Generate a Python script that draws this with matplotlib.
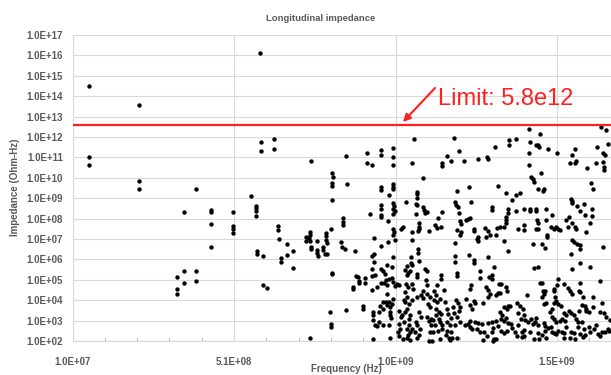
import matplotlib
matplotlib.use("Agg")
import matplotlib.pyplot as plt
import numpy as np
from matplotlib.ticker import FixedLocator, NullLocator

plt.rcParams['font.family'] = ['Liberation Sans', 'DejaVu Sans']

# ---------------- data (frequency in GHz, impedance as log10 of Ohm-Hz) ----------------
freq_ghz = [
    # far left
    0.062, 0.062, 0.062, 0.215, 0.215, 0.215, 0.392, 0.355, 0.440, 0.440,
    0.440, 0.440, 0.506, 0.506, 0.506, 0.506, 0.334, 0.334, 0.334, 0.356,
    0.356, 0.392, 0.392,
    # 0.55 - 1.0 GHz
    0.590, 0.593, 0.593, 0.635, 0.635, 0.749, 0.562, 0.578, 0.578, 0.578,
    0.578, 0.582, 0.582, 0.601, 0.601, 0.613, 0.647, 0.647, 0.649, 0.673,
    0.656, 0.656, 0.673, 0.694, 0.694, 0.745, 0.745, 0.741, 0.745, 0.733,
    0.733, 0.749, 0.749, 0.768, 0.768, 0.768, 0.770, 0.786, 0.786, 0.795,
    0.795, 0.795, 0.797, 0.791, 0.797, 0.810, 0.812, 0.813, 0.817, 0.813,
    0.813, 0.847, 0.847, 0.847, 0.840, 0.844, 0.853, 0.858, 0.861, 0.813,
    0.813, 0.885, 0.807, 0.809, 0.809, 0.857, 0.745, 0.878, 0.878, 0.888,
    0.894, 0.898, 0.898, 0.915, 0.915, 0.910, 0.910, 0.921, 0.921, 0.937,
    0.931, 0.966, 0.966, 0.966, 0.966, 0.966, 0.966, 0.966, 0.966, 0.989,
    0.987, 0.943, 0.966, 0.987, 0.937, 0.943, 0.943, 0.937, 0.937, 0.946,
    0.937, 0.954, 0.964, 0.972, 0.978, 0.966, 0.974, 0.984, 0.984, 0.990,
    0.939, 0.939, 0.939, 0.954, 0.972, 0.962, 0.972, 0.983, 0.939, 0.981,
    0.989, 0.972, 0.991, 0.947, 0.981, 0.999, 1.014, 0.985, 0.958, 0.960,
    # 1.0 - 1.22 GHz, upper part
    1.003, 1.003, 1.003, 1.068, 1.061, 1.096, 1.003, 1.003, 1.003, 1.003,
    1.005, 1.003, 1.008, 1.003, 1.077, 1.077, 1.076, 1.043, 1.073, 1.077,
    1.073, 1.096, 1.098, 1.100, 1.107, 1.154, 1.142, 1.002, 1.006, 1.028,
    1.034, 1.061, 1.082, 1.082, 1.082, 1.080, 1.115, 1.133, 1.138, 1.150,
    1.190, 1.208, 1.169, 1.183, 1.154, 1.154, 1.222, 1.199, 1.193, 1.197,
    1.204, 1.206, 1.210, 1.212, 1.199, 1.212,
    # 1.0 - 1.22 GHz, lower part
    1.003, 1.009, 1.061, 1.080, 1.080, 1.057, 1.057, 1.061, 1.082, 1.003,
    0.999, 1.045, 1.040, 1.049, 1.047, 1.055, 1.102, 1.107, 1.020, 1.002,
    1.008, 1.043, 1.049, 1.061, 1.065, 1.104, 1.107, 1.096, 1.077, 1.090,
    1.094, 1.040, 1.047, 1.036, 1.040, 1.053, 1.061, 1.003, 0.999, 0.993,
    0.993, 0.993, 0.995, 1.020, 1.026, 1.030, 1.040, 1.047, 1.055, 1.051,
    1.036, 1.022, 1.024, 1.018, 1.022, 1.051, 1.045, 1.055, 1.049, 1.061,
    1.073, 1.077, 1.086, 1.071, 1.082, 1.107, 1.113, 1.119, 1.119, 1.127,
    1.133, 1.107, 1.117, 1.111, 1.117, 1.135, 1.129, 1.139, 1.148, 1.135,
    1.144, 1.152, 1.135, 1.144, 1.148, 1.154, 1.154, 1.117, 1.127, 1.142,
    1.170, 1.179, 1.183, 1.152, 1.150, 1.139, 1.160, 1.129, 1.164, 1.169,
    1.173, 1.181, 1.197, 1.204, 1.210, 1.208, 1.199, 1.210, 1.193, 1.193,
    1.193, 1.201, 1.201, 1.210, 1.175, 1.185, 1.148, 1.077, 1.032, 1.046,
    1.076, 1.077, 1.084, 1.088, 1.170, 1.166, 1.188, 1.191, 1.195, 1.199,
    0.992, 1.055, 1.113, 1.122, 1.179,
    # 1.22 - 1.68 GHz, upper part
    1.422, 1.456, 1.646, 1.662, 1.361, 1.361, 1.384, 1.425, 1.444, 1.450,
    1.454, 1.483, 1.510, 1.423, 1.318, 1.264, 1.293, 1.295, 1.423, 1.460,
    1.430, 1.434, 1.440, 1.450, 1.467, 1.471, 1.238, 1.328, 1.353, 1.384,
    1.396, 1.370, 1.244, 1.308, 1.308, 1.357, 1.359, 1.351, 1.353, 1.353,
    1.384, 1.407, 1.425, 1.427, 1.446, 1.446, 1.477, 1.495, 1.448, 1.452,
    1.477, 1.227, 1.234, 1.240, 1.254, 1.254, 1.287, 1.297, 1.324, 1.333,
    1.347, 1.390, 1.407, 1.409, 1.446, 1.452, 1.491, 1.502, 1.508, 1.514,
    1.518, 1.537, 1.547, 1.543, 1.556, 1.566, 1.570, 1.553, 1.556, 1.556,
    1.572, 1.580, 1.593, 1.595, 1.617, 1.617, 1.613, 1.601, 1.566, 1.557,
    1.568, 1.551, 1.566, 1.603, 1.615, 1.621, 1.634, 1.652, 1.659, 1.667,
    1.632, 1.652, 1.655, 1.656,
    # 1.22 - 1.68 GHz, lower part
    1.264, 1.262, 1.266, 1.289, 1.303, 1.320, 1.345, 1.359, 1.436, 1.464,
    1.473, 1.479, 1.479, 1.557, 1.564, 1.572, 1.580, 1.580, 1.652, 1.553,
    1.582, 1.613, 1.238, 1.252, 1.254, 1.297, 1.316, 1.310, 1.299, 1.308,
    1.273, 1.273, 1.438, 1.452, 1.557, 1.458, 1.464, 1.512, 1.531, 1.510,
    1.502, 1.500, 1.504, 1.330, 1.337, 1.353, 1.355, 1.291, 1.295, 1.244,
    1.240, 1.326, 1.333, 1.320, 1.417, 1.467, 1.473, 1.469, 1.464, 1.545,
    1.551, 1.557, 1.582, 1.578, 1.582, 1.644, 1.671, 1.590, 1.588, 1.597,
    1.601, 1.609, 1.648, 1.621, 1.227, 1.240, 1.246, 1.252, 1.256, 1.281,
    1.297, 1.303, 1.333, 1.341, 1.353, 1.347, 1.357, 1.364, 1.355, 1.386,
    1.394, 1.405, 1.388, 1.407, 1.399, 1.411, 1.419, 1.470, 1.477, 1.489,
    1.495, 1.500, 1.508, 1.514, 1.522, 1.495, 1.500, 1.506, 1.518, 1.526,
    1.531, 1.537, 1.547, 1.553, 1.562, 1.570, 1.576, 1.444, 1.442, 1.430,
    1.434, 1.452, 1.469, 1.473, 1.481, 1.473, 1.491, 1.495, 1.502, 1.506,
    1.512, 1.524, 1.531, 1.242, 1.234, 1.240, 1.246, 1.225, 1.256, 1.266,
    1.279, 1.271, 1.262, 1.284, 1.294, 1.297, 1.309, 1.322, 1.326, 1.312,
    1.308, 1.316, 1.320, 1.335, 1.345, 1.337, 1.345, 1.355, 1.359, 1.368,
    1.372, 1.380, 1.386, 1.401, 1.409, 1.390, 1.407, 1.425, 1.438, 1.450,
    1.464, 1.477, 1.454, 1.534, 1.537, 1.531, 1.553, 1.551, 1.561, 1.566,
    1.574, 1.580, 1.588, 1.594, 1.597, 1.609, 1.613, 1.625, 1.632, 1.636,
    1.642, 1.648, 1.659, 1.667, 1.675, 1.663, 1.656, 1.644, 1.621, 1.599,
    1.578, 1.281, 1.312, 1.402, 1.589,
]

log10_impedance = [
    # far left
    14.49, 11.02, 10.63, 13.57, 9.84, 9.45, 9.45, 8.31, 8.41, 8.31,
    7.72, 6.62, 8.31, 7.62, 7.49, 7.31, 5.15, 4.53, 4.29, 5.45,
    4.86, 5.45, 4.94,
    # 0.55 - 1.0 GHz
    16.13, 11.75, 11.33, 11.92, 11.41, 10.81, 9.12, 8.63, 8.50, 8.37,
    8.14, 6.43, 6.26, 6.18, 4.75, 4.58, 7.64, 7.44, 7.00, 6.75,
    6.05, 5.86, 6.22, 6.40, 5.59, 7.34, 7.20, 7.03, 6.89, 7.11,
    6.89, 6.59, 6.50, 6.92, 6.46, 6.30, 6.18, 6.62, 6.46, 7.28,
    7.15, 6.95, 6.79, 6.26, 6.26, 7.49, 8.91, 10.25, 10.02, 9.73,
    9.60, 8.01, 7.83, 7.70, 6.87, 6.62, 6.51, 11.08, 9.70, 5.35,
    5.27, 6.43, 3.44, 2.82, 2.67, 3.52, 2.13, 4.66, 4.53, 5.19,
    5.12, 4.96, 4.86, 5.07, 4.83, 3.72, 3.55, 11.20, 10.74, 10.61,
    8.23, 11.36, 11.12, 9.56, 9.40, 8.67, 8.49, 8.16, 8.06, 9.14,
    7.90, 7.03, 6.66, 6.85, 6.17, 6.26, 5.89, 5.51, 5.19, 5.24,
    4.50, 4.63, 5.51, 5.45, 5.28, 4.86, 4.84, 4.75, 4.30, 5.04,
    3.44, 3.27, 3.03, 2.74, 2.80, 3.72, 3.93, 3.76, 2.08, 3.91,
    3.91, 3.55, 2.80, 2.77, 4.99, 5.07, 4.79, 5.71, 3.44, 2.95,
    # 1.0 - 1.22 GHz, upper part
    11.48, 11.01, 10.61, 11.90, 10.74, 10.00, 9.70, 9.56, 9.44, 8.78,
    8.62, 8.49, 8.39, 8.23, 9.30, 9.21, 9.00, 8.83, 8.72, 8.65,
    8.23, 8.58, 8.42, 8.26, 8.34, 8.31, 8.01, 7.48, 7.36, 7.49,
    7.57, 7.36, 7.77, 7.60, 7.49, 7.41, 7.41, 7.69, 7.52, 7.57,
    11.94, 11.33, 11.07, 10.81, 10.74, 10.58, 10.81, 9.37, 8.83, 8.65,
    8.55, 8.26, 7.90, 7.72, 7.44, 7.33,
    # 1.0 - 1.22 GHz, lower part
    7.21, 6.94, 6.94, 6.49, 6.33, 6.12, 5.84, 5.71, 5.91, 6.13,
    5.64, 5.68, 5.49, 5.35, 5.22, 5.42, 5.54, 5.42, 4.73, 4.89,
    4.70, 4.81, 4.65, 4.81, 4.53, 4.98, 4.76, 4.44, 4.16, 4.24,
    4.11, 4.40, 4.16, 3.99, 3.91, 3.83, 3.99, 4.04, 3.83, 3.67,
    3.42, 3.26, 3.13, 3.49, 3.16, 3.26, 3.42, 3.55, 3.26, 3.06,
    2.93, 2.85, 2.60, 2.44, 2.25, 2.77, 2.57, 2.44, 2.28, 2.60,
    2.93, 2.77, 2.60, 2.44, 2.28, 3.18, 2.97, 3.06, 2.80, 3.01,
    2.80, 4.32, 4.16, 3.83, 3.67, 4.24, 3.99, 3.91, 4.07, 3.58,
    3.42, 3.34, 3.26, 3.09, 2.93, 2.77, 2.60, 2.44, 2.44, 2.48,
    2.93, 2.77, 2.44, 5.22, 5.02, 4.73, 4.49, 4.44, 3.91, 3.58,
    3.34, 3.13, 3.99, 3.88, 3.67, 3.46, 3.18, 2.93, 6.82, 6.17,
    5.87, 5.32, 5.19, 7.21, 2.15, 2.15, 2.08, 2.15, 2.11, 2.14,
    5.28, 5.15, 3.44, 3.16, 2.50, 2.28, 3.68, 3.39, 2.77, 2.13,
    2.13, 2.07, 2.00, 2.00, 2.06,
    # 1.22 - 1.68 GHz, upper part
    12.39, 12.15, 12.48, 12.34, 11.85, 11.59, 11.89, 11.75, 11.59, 11.59,
    11.52, 11.40, 11.23, 11.20, 11.50, 10.94, 11.03, 10.91, 10.61, 10.22,
    10.02, 9.93, 9.81, 9.44, 9.37, 9.44, 9.56, 9.60, 9.27, 9.14,
    9.27, 8.91, 8.81, 8.55, 8.42, 8.49, 8.26, 8.06, 7.93, 7.80,
    8.36, 8.46, 8.49, 8.36, 8.46, 8.36, 8.49, 8.16, 7.93, 7.80,
    7.93, 7.93, 7.97, 8.03, 7.50, 7.38, 7.55, 7.38, 7.55, 7.57,
    7.60, 7.48, 7.67, 7.44, 7.48, 7.48, 7.60, 7.50, 7.57, 7.48,
    7.44, 7.93, 8.06, 7.60, 7.77, 7.60, 7.48, 8.98, 8.88, 8.78,
    8.62, 8.36, 8.72, 8.19, 8.49, 8.13, 7.80, 7.34, 11.43, 11.13,
    10.84, 10.71, 10.71, 10.48, 9.73, 9.47, 11.50, 11.23, 11.10, 11.66,
    10.74, 10.77, 10.51, 10.38,
    # 1.22 - 1.68 GHz, lower part
    7.11, 6.99, 6.89, 7.11, 7.21, 7.18, 6.89, 6.40, 6.75, 6.75,
    6.56, 7.21, 7.08, 6.95, 6.85, 6.75, 6.69, 6.52, 6.59, 6.26,
    5.81, 5.64, 6.20, 5.97, 5.84, 6.13, 5.64, 5.22, 5.12, 5.02,
    5.42, 5.09, 5.58, 5.64, 5.51, 4.86, 4.86, 5.05, 4.79, 4.73,
    4.56, 4.44, 4.14, 4.79, 4.79, 4.66, 4.47, 4.66, 4.50, 4.76,
    4.56, 4.37, 4.34, 4.24, 4.24, 4.47, 4.47, 4.30, 4.14, 4.60,
    4.47, 4.30, 4.86, 4.47, 4.40, 4.96, 2.50, 4.14, 3.78, 3.72,
    3.55, 3.42, 3.88, 4.14, 4.07, 3.75, 3.55, 3.98, 3.85, 3.85,
    4.14, 4.30, 3.42, 3.29, 3.13, 3.68, 3.72, 3.72, 3.55, 3.85,
    3.72, 3.58, 3.39, 3.26, 3.06, 3.03, 2.93, 3.81, 3.85, 3.42,
    3.55, 3.85, 3.95, 3.81, 3.72, 3.16, 3.06, 2.93, 2.97, 3.06,
    3.39, 3.29, 3.46, 3.39, 3.26, 3.06, 2.93, 3.13, 2.93, 3.06,
    2.83, 2.77, 2.87, 2.74, 2.64, 2.50, 2.67, 2.44, 2.41, 2.34,
    2.50, 2.44, 2.38, 2.97, 2.83, 2.67, 2.60, 2.77, 2.93, 2.87,
    2.83, 2.44, 2.57, 2.44, 2.25, 2.90, 2.93, 2.97, 2.74, 2.64,
    2.44, 2.11, 2.11, 3.06, 2.97, 2.50, 2.41, 2.48, 2.90, 2.83,
    2.64, 2.44, 2.25, 2.44, 2.54, 2.77, 2.25, 2.44, 2.11, 2.38,
    2.28, 2.15, 2.11, 2.97, 2.67, 2.15, 2.44, 2.15, 2.38, 2.11,
    2.67, 2.34, 2.93, 2.57, 2.28, 2.70, 2.44, 2.57, 2.80, 2.34,
    2.25, 2.44, 2.44, 2.57, 3.03, 3.16, 3.36, 3.42, 3.68, 3.46,
    3.49, 2.06, 2.00, 2.20, 2.20,
]

limit_line = 3.8e12          # drawn position of the limit line
limit_label = "Limit: 5.8e12"
title = "Longitudinal impedance"
x_label = "Frequency (Hz)"
y_label = "Impedance (Ohm-Hz)"
x_ticks = [1.0e7, 5.1e8, 1.01e9, 1.51e9]
y_tick_exponents = list(range(2, 18))
x_min, x_max = 1.0e7, 1.677e9
y_min, y_max = 1e2, 1e17

assert len(freq_ghz) == len(log10_impedance)

freq_hz = np.array(freq_ghz) * 1e9
impedance = 10.0 ** np.array(log10_impedance)

# ---------------- figure ----------------
W, H = 611, 375
fig = plt.figure(figsize=(W / 100, H / 100), dpi=100)
ax = fig.add_axes([72.5 / W, 34 / H, (W - 72.5) / W, 306 / H])

grid_c = '#d9d9d9'
txt_c = '#595959'

ax.set_yscale('log')
ax.set_xlim(x_min, x_max)
ax.set_ylim(y_min, y_max)

ax.scatter(freq_hz, impedance, s=10, c='black', linewidths=0, zorder=3, clip_on=False)

ax.axhline(limit_line, color='#ff1f1f', lw=1.6, zorder=4)

# ticks / grid
ax.yaxis.set_major_locator(FixedLocator([10.0 ** k for k in y_tick_exponents]))
ax.yaxis.set_minor_locator(NullLocator())
ax.set_yticklabels(['1.0E+%02d' % k for k in y_tick_exponents])
ax.xaxis.set_major_locator(FixedLocator(x_ticks))
ax.set_xticklabels(['%.1E' % v for v in x_ticks])
ax.xaxis.set_minor_locator(FixedLocator(np.arange(x_min, x_max, 1e8)))

ax.grid(True, which='major', color=grid_c, lw=0.8, zorder=0)
ax.set_axisbelow(True)
for s in ['top', 'right', 'left']:
    ax.spines[s].set_visible(False)
ax.spines['bottom'].set_color(grid_c)
ax.spines['bottom'].set_linewidth(0.8)

ax.tick_params(axis='y', which='major', length=0, pad=7, labelsize=7, labelcolor=txt_c)
ax.tick_params(axis='x', which='major', length=0, pad=11.5, labelsize=7, labelcolor=txt_c)
ax.tick_params(axis='x', which='minor', length=3, direction='in', color='#bfbfbf', width=0.8)
for lab in ax.get_xticklabels() + ax.get_yticklabels():
    lab.set_fontweight('bold')

# annotation
ax.text(0.6787, 0.7712, limit_label, transform=ax.transAxes, color='#ff1f1f',
        fontsize=17, ha='left', va='baseline', zorder=5)
ax.annotate('', xy=(0.6137, 0.7157), xytext=(0.6732, 0.8268),
            xycoords='axes fraction', textcoords='axes fraction',
            arrowprops=dict(arrowstyle='-|>', color='#ff1f1f', lw=1.5,
                            mutation_scale=11, shrinkA=0, shrinkB=0))

# titles / labels
fig.text(321 / W, 1 - 18.7 / H, title, ha='center', va='center',
         fontsize=6.8, fontweight='bold', color=txt_c)
fig.text(15 / W, 1 - 187 / H, y_label, ha='center', va='center', rotation=90,
         fontsize=7, fontweight='bold', color=txt_c)
fig.text(346 / W, 1 - 369.5 / H, x_label, ha='center', va='center',
         fontsize=7, fontweight='bold', color=txt_c)

fig.savefig('out.png', dpi=100)
